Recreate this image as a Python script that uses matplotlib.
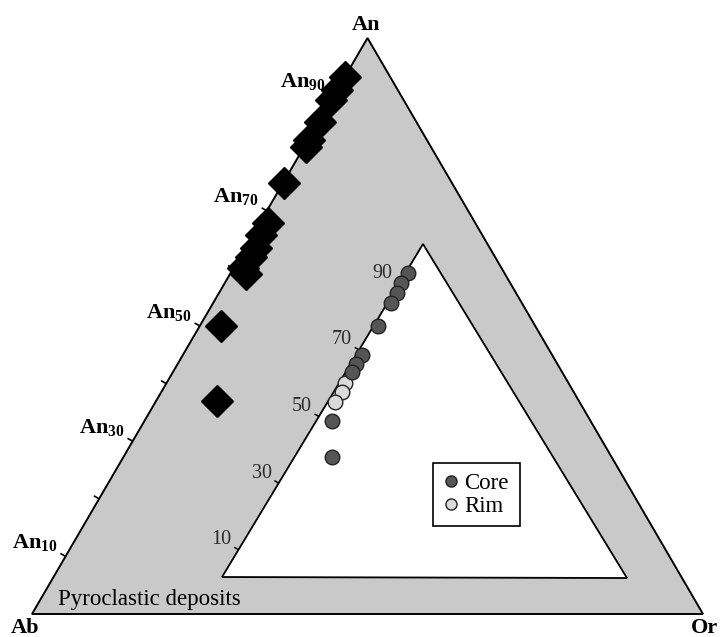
import numpy as np
import matplotlib
matplotlib.use("Agg")
import matplotlib.pyplot as plt
from matplotlib.lines import Line2D
from matplotlib.patches import Polygon

# ---------------- data (mol %) ----------------
# Plagioclase of the pyroclastic deposits (outer Ab-An-Or triangle)
diamond_an = [93.3, 91.0, 89.2, 85.5, 82.3, 81.1, 74.8, 67.8, 65.8, 63.5, 62.0, 60.0, 59.1, 50.0, 37.0]
diamond_or = [0.0, 0.0, 0.0, 0.1, 0.2, 0.3, 0.2, 1.2, 1.2, 1.6, 1.6, 1.4, 2.3, 3.1, 9.1]

# Inner triangle: cores and rims
core_an = [93.2, 90.2, 87.2, 84.2, 77.2, 68.5, 65.7, 63.5, 48.6, 37.9]
core_or = [0.5, 0.3, 0.9, 0.8, 1.2, 1.4, 1.3, 1.4, 3.8, 9.0]
rim_an = [60.0, 57.4, 54.4]
rim_or = [1.5, 1.9, 1.7]

outer_ticks = [10, 20, 30, 40, 50, 60, 70, 80, 90]
outer_labeled = [10, 30, 50, 70, 90]
inner_ticks = [10, 30, 50, 70, 90]

vertex_labels = ["Ab", "An", "Or"]
series_labels = ["Core", "Rim"]
region_label = "Pyroclastic deposits"

# ---------------- styling / layout ----------------
plt.rcParams["mathtext.default"] = "regular"
SERIF = "Liberation Serif"
GREY = "#c9c9c9"
H = np.sqrt(3) / 2

# inner ternary frame (Ab-corner, An-corner, Or-corner) in outer cartesian coords
IN_AB = np.array([0.2778, 0.0466])
IN_AN = np.array([0.5773, 0.5473])
IN_OR = np.array([0.8912, 0.0466])
# visible white inner triangle
INNER_POLY = [(0.2832, 0.0556), (0.5827, 0.5563), (0.8867, 0.0541)]


def outer_xy(an, orr):
    a = np.asarray(an) / 100.0
    o = np.asarray(orr) / 100.0
    return o + a / 2.0, a * H


def inner_xy(an, orr):
    a = np.asarray(an, dtype=float)[..., None] / 100.0
    o = np.asarray(orr, dtype=float)[..., None] / 100.0
    p = IN_AB + a * (IN_AN - IN_AB) + o * (IN_OR - IN_AB)
    return p[..., 0], p[..., 1]


fig = plt.figure(figsize=(7.2, 6.37), dpi=100)
ax = fig.add_axes([0, 0, 1, 1])
PX_X = 671.0
PX_Y = 665.1
ax.set_xlim(-32 / PX_X, (720 - 32) / PX_X)
ax.set_ylim(-23 / PX_Y, 614 / PX_Y)
ax.axis("off")

# outer grey triangle
ax.add_patch(Polygon([(0, 0), (1, 0), (0.5, H)], closed=True, facecolor=GREY,
                     edgecolor="black", linewidth=1.4, zorder=1))
# inner white triangle
ax.add_patch(Polygon(INNER_POLY, closed=True, facecolor="white",
                     edgecolor="black", linewidth=1.3, zorder=2))

# outer ticks on the Ab-An edge
nx, ny = -np.sqrt(3) / 2, 0.5
tl = 6.0
for t in outer_ticks:
    x0, y0 = outer_xy(t, 0)
    ax.plot([x0, x0 + nx * tl / PX_X], [y0, y0 + ny * tl / PX_Y], color="black",
            lw=1.2, zorder=3, solid_capstyle="butt")
for t in outer_labeled:
    x0, y0 = outer_xy(t, 0)
    ax.text(x0 - 8 / PX_X, y0 + 14 / PX_Y, "An$_{%d}$" % t, ha="right", va="center",
            fontfamily=SERIF, fontweight="bold", fontsize=16, zorder=6)

# inner ticks
for t in inner_ticks:
    x0, y0 = inner_xy(t, 0)
    x0, y0 = float(x0), float(y0)
    ax.plot([x0, x0 + nx * 5 / PX_X], [y0, y0 + ny * 5 / PX_Y], color="black",
            lw=1.1, zorder=3, solid_capstyle="butt")
    ax.text(x0 - 7 / PX_X, y0 + 10 / PX_Y, str(t), ha="right", va="center",
            fontfamily=SERIF, fontsize=14.5, color="#2a2a2a", zorder=6)

# diamonds (pyroclastic plagioclase)
dx, dy = outer_xy(diamond_an, diamond_or)
ax.plot(dx, dy, linestyle="none", marker="D", markersize=16, markerfacecolor="black",
        markeredgecolor="black", markeredgewidth=1, zorder=5)

# rims then cores
rx, ry = inner_xy(rim_an, rim_or)
ax.plot(rx, ry, linestyle="none", marker="o", markersize=10.5, markerfacecolor="#dadada",
        markeredgecolor="#222222", markeredgewidth=1, zorder=5)
cx, cy = inner_xy(core_an, core_or)
ax.plot(cx, cy, linestyle="none", marker="o", markersize=10.5, markerfacecolor="#555555",
        markeredgecolor="#222222", markeredgewidth=1, zorder=5)

# vertex labels
ax.text(-7 / PX_X, -14 / PX_Y, vertex_labels[0], ha="center", va="center",
        fontfamily=SERIF, fontweight="bold", fontsize=16)
ax.text(334 / PX_X, 589 / PX_Y, vertex_labels[1], ha="center", va="center",
        fontfamily=SERIF, fontweight="bold", fontsize=16)
ax.text(673 / PX_X, -14 / PX_Y, vertex_labels[2], ha="center", va="center",
        fontfamily=SERIF, fontweight="bold", fontsize=16)

ax.text(26 / PX_X, 14 / PX_Y, region_label, ha="left", va="center",
        fontfamily=SERIF, fontsize=16.5, zorder=6)

# legend
handles = [
    Line2D([], [], linestyle="none", marker="o", markersize=8, markerfacecolor="#555555",
           markeredgecolor="#222222", markeredgewidth=1),
    Line2D([], [], linestyle="none", marker="o", markersize=8, markerfacecolor="#dadada",
           markeredgecolor="#222222", markeredgewidth=1),
]
leg = ax.legend(handles, series_labels, loc="upper left",
                bbox_to_anchor=(433 / 720, 1 - 523 / 637, 87 / 720, 60 / 637),
                bbox_transform=fig.transFigure, mode="expand", frameon=True, fancybox=False,
                prop={"family": SERIF, "size": 16.5}, handlelength=0.7, handletextpad=0.25,
                borderpad=0.42, labelspacing=0.08, borderaxespad=0.0)
leg.get_frame().set_edgecolor("black")
leg.get_frame().set_linewidth(1.2)
leg.get_frame().set_facecolor("white")
leg.get_frame().set_alpha(1)

fig.savefig("out.png", dpi=100)
